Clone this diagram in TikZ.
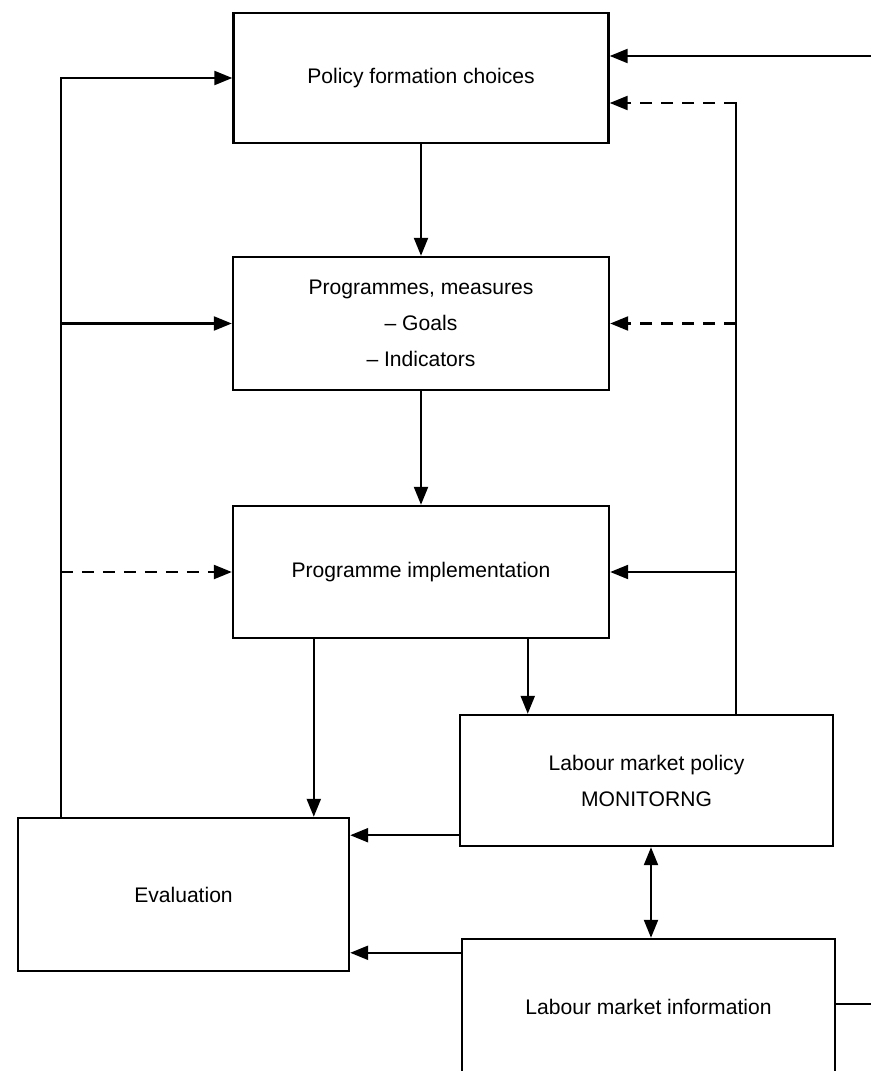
\documentclass[tikz,border=0pt]{standalone}
\usepackage{fontspec}
\setmainfont{Liberation Sans}
\usetikzlibrary{arrows.meta, calc}
\tikzset{
  box/.style={rectangle, draw=black, line width=1.4pt, inner sep=0pt, align=center, font=\fontsize{12}{20.5}\selectfont},
  link/.style={line width=1.3pt, line cap=rect},
  arrow/.style={line width=1.3pt, -{Triangle[length=3.6mm, width=2.8mm]}},
  dasharrow/.style={arrow, dash pattern=on 0.24cm off 0.18cm},
  twoway/.style={line width=1.3pt, {Triangle[length=3.6mm, width=2.8mm]}-{Triangle[length=3.6mm, width=2.8mm]}}
}

\begin{document}
\begin{tikzpicture}[x=0.02cm, y=-0.02cm]
    \useasboundingbox (0,0) rectangle (871,1071);
    \clip (0,0) rectangle (871,1071);

    % Cajas
    \node[box, minimum width=7.5cm, minimum height=2.6cm] (policy) at (421,78) {Policy formation choices};
    \node[box, minimum width=7.52cm, minimum height=2.66cm] (prog) at (421,323.5) {Programmes, measures\\-- Goals\\-- Indicators};
    \node[box, minimum width=7.52cm, minimum height=2.64cm] (impl) at (421,572) {Programme implementation};
    \node[box, minimum width=7.46cm, minimum height=2.62cm] (monit) at (646.5,780.5) {Labour market policy\\MONITORNG};
    \node[box, minimum width=6.62cm, minimum height=3.06cm] (eval) at (183.5,894.5) {Evaluation};
    \node[box, minimum width=7.46cm, minimum height=2.72cm] (info) at (648.5,1007) {Labour market information};

    % Cadena principal
    \draw[arrow] (policy) -- (prog);
    \draw[arrow] (prog) -- (impl);
    \draw[arrow] ([xshift=1.64cm]impl.south west) coordinate (i2e) -- (i2e |- eval.north);
    \draw[arrow] ([xshift=5.92cm]impl.south west) coordinate (i2m) -- (i2m |- monit.north);

    % Retorno desde la evaluacion (izquierda)
    \coordinate (lft) at (61,78);
    \draw[arrow] (eval.north -| lft) -- (lft) -- (policy.west);
    \draw[arrow] (lft |- prog.west) -- (prog.west);
    \draw[dasharrow] (lft |- impl.west) -- (impl.west);

    % Retorno desde el monitoreo (derecha)
    \coordinate (rgt) at (736,103);
    \draw[link] (monit.north -| rgt) -- (rgt);
    \draw[dasharrow] (rgt) -- (rgt -| policy.east);
    \draw[dasharrow] (rgt |- prog.east) -- (prog.east);
    \draw[arrow] (rgt |- impl.east) -- (impl.east);

    % Hacia la evaluacion
    \draw[arrow] ([yshift=0.24cm]monit.south west) coordinate (m2e) -- (m2e -| eval.east);
    \draw[arrow] ([yshift=-0.3cm]info.north west) coordinate (n2e) -- (n2e -| eval.east);
    \draw[twoway] ([xshift=0.09cm]monit.south) coordinate (m2n) -- (m2n |- info.north);

    % Enlaces fuera del margen
    \coordinate (inR) at (871,56);
    \draw[arrow] (inR) -- (inR -| policy.east);
    \coordinate (outR) at (871,1004);
    \draw[link] (info.east |- outR) -- (outR);

\end{tikzpicture}
\end{document}
